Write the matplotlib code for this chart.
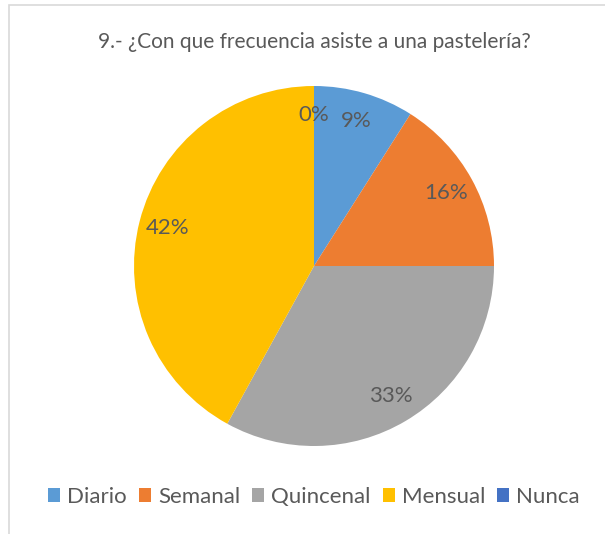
import matplotlib
matplotlib.use("Agg")
from matplotlib import pyplot as plt
from matplotlib.patches import Rectangle, Patch

# Data
categories = ["Diario", "Semanal", "Quincenal", "Mensual", "Nunca"]
values = [9, 16, 33, 42, 0]
colors = ["#5B9BD5", "#ED7D31", "#A5A5A5", "#FFC000", "#4472C4"]
title = "9.- ¿Con que frecuencia asiste a una pastelería?"

plt.rcParams["font.family"] = ["Lato", "DejaVu Sans"]
text_col = "#595959"

fig = plt.figure(figsize=(6.05, 5.34), dpi=100)

# chart frame (light gray border at left/top)
fig.patches.append(Rectangle((9 / 605, -0.1), 1.2, 1 - 5 / 534 + 0.1,
                             transform=fig.transFigure, fill=False,
                             edgecolor="#D9D9D9", linewidth=1.2))

# Pie axes: center (314, 266), radius 180 px
cx, cy, r = 314, 266, 180
ax = fig.add_axes([(cx - r) / 605, (534 - cy - r) / 534, 2 * r / 605, 2 * r / 534])
wedges, texts, autotexts = ax.pie(values, colors=colors, startangle=90, counterclock=False,
                                  autopct="%1.0f%%", pctdistance=0.84, radius=1.0,
                                  wedgeprops=dict(linewidth=0))
for t in autotexts:
    t.set_color(text_col)
    t.set_fontsize(16)
ax.set_xlim(-1, 1)
ax.set_ylim(-1, 1)
ax.set_aspect("equal")

fig.text(cx / 605, 1 - 42 / 534, title, ha="center", va="center",
         fontsize=15, color=text_col)

handles = [Patch(facecolor=c, edgecolor="none") for c in colors]
fig.legend(handles, categories, loc="center", bbox_to_anchor=(cx / 605, 1 - 497 / 534),
           ncol=5, frameon=False, fontsize=16, handlelength=0.55, handleheight=0.55,
           handletextpad=0.3, columnspacing=0.55, labelcolor=text_col)

plt.savefig("out.png", dpi=100)
